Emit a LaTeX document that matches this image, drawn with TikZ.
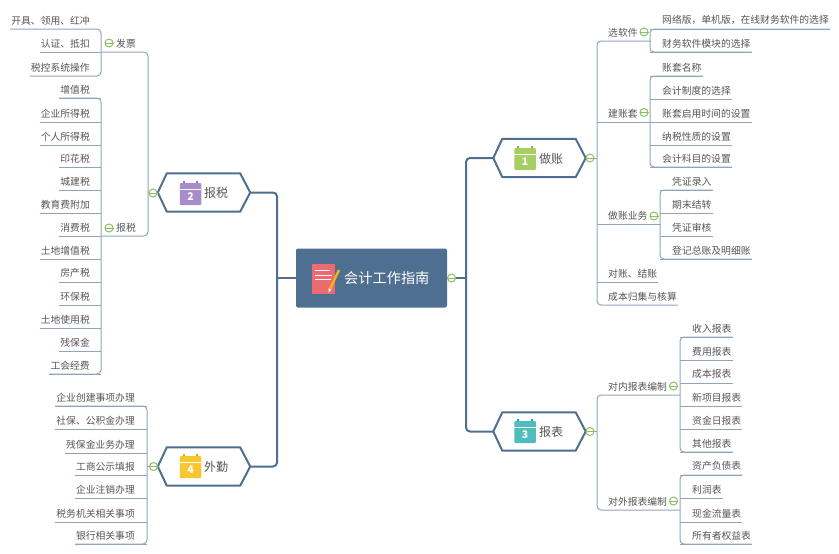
\documentclass[tikz,border=0pt]{standalone}
\usepackage{fontspec}
\setmainfont{Noto Sans CJK SC}
\definecolor{mainline}{HTML}{4F6F91}
\definecolor{subline}{HTML}{8FA5BD}
\definecolor{txt}{HTML}{555555}
\definecolor{mark}{HTML}{8DBF5F}
\definecolor{cgreen}{HTML}{A5CF62}
\definecolor{cpurple}{HTML}{A98CCB}
\definecolor{cteal}{HTML}{4FBDBD}
\definecolor{cyellow}{HTML}{F8C630}
\definecolor{cred}{HTML}{EC6B71}
\definecolor{corange}{HTML}{F5B21F}
\newcommand{\PadL}[1]{\hspace*{1pt}#1\hspace*{11pt}}
\newcommand{\PadLw}[1]{\hspace*{1pt}#1\hspace*{12pt}}
\newcommand{\PadR}[1]{\hspace*{12pt}#1\hspace*{1pt}}
\newcommand{\PadRb}[1]{\hspace*{11pt}#1\hspace*{1pt}}
\newcommand{\PadB}[1]{\hspace*{11pt}#1\hspace*{13pt}}
\newcommand{\PadBL}[1]{\hspace*{15pt}#1\hspace*{12pt}}
\newcommand{\HexOutline}[1]{\draw[hexline] ([xshift=9pt]#1.north west) -- ([xshift=-10pt]#1.north east) -- (#1.east) -- ([xshift=-10pt]#1.south east) -- ([xshift=9pt]#1.south west) -- (#1.west) -- cycle;}
\newcommand{\Calendar}[4]{%
  \node[calbody,fill=#2] (#1) at (#3) {};
  \fill[#2!85!black] (#1.north west) ++(3,0) rectangle ++(2,-1.5);
  \fill[#2!85!black] (#1.north east) ++(-5,0) rectangle ++(2,-1.5);
  \draw[white,line width=0.8pt] (#1.north west) ++(0,7) -- ++(21.5,0);
  \node[caldigit] (#1d) at ([yshift=-3pt]#1.center) {#4};}
\tikzset{
  every node/.style={text=txt,inner sep=0pt,font=\fontsize{9.8pt}{11pt}\selectfont},
  hexnode/.style={minimum width=92pt,minimum height=38pt,font=\fontsize{12pt}{14pt}\selectfont},
  hexline/.style={draw=mainline,line width=2pt,line join=round},
  mainconn/.style={draw=mainline,line width=2pt,rounded corners=4pt},
  subconn/.style={draw=subline,line width=1pt,rounded corners=4pt},
  leafl/.style={anchor=south east,minimum height=17pt},
  leafr/.style={anchor=south west,minimum height=17pt},
  marknode/.style={circle,draw=mark,fill=white,line width=1pt,minimum size=8pt},
  markbar/.style={draw=mark,line width=1pt},
  calbody/.style={rectangle,rounded corners=1pt,minimum width=21.5pt,minimum height=22pt},
  caldigit/.style={text=white,font=\fontsize{10.5pt}{11pt}\bfseries\selectfont},
}
\begin{document}
\begin{tikzpicture}[x=1pt,y=-1pt]
\useasboundingbox (0,0) rectangle (839,554);

% root
\node[rectangle,fill=mainline,rounded corners=2pt,minimum width=151pt,minimum height=59pt] (root) at (371.5,278) {};
\node[text=white,font=\fontsize{14.2pt}{16pt}\selectfont,anchor=west] (roottext) at (344,278) {会计工作指南};
\node[rectangle,fill=cred,minimum width=23pt,minimum height=30pt] (pad) at (323.5,279) {};
\draw[white,line width=0.9pt] (315,270) -- (330,270) (315,275) -- (332,275) (315,279.5) -- (331,279.5);
\draw[corange,line width=2.4pt] (339,270) -- (330,289);
\fill[white] (328.6,288.4) -- (331.4,289.6) -- (328.5,292.5) -- cycle;

% topic nodes
\node[hexnode] (zuo) at (539.5,158) {};
\node[hexnode] (biao) at (539.5,431.5) {};
\node[hexnode] (shui) at (204,192.5) {};
\node[hexnode] (qin) at (204,466.5) {};
\HexOutline{zuo}\HexOutline{biao}\HexOutline{shui}\HexOutline{qin}
\Calendar{calz}{cgreen}{525,159}{1}
\Calendar{calb}{cteal}{525,432}{3}
\Calendar{cals}{cpurple}{190.5,194}{2}
\Calendar{calq}{cyellow}{190.5,467}{4}
\node[anchor=west,font=\fontsize{12pt}{14pt}\selectfont] at (539,158.5) (tz) {做账};
\node[anchor=west,font=\fontsize{12pt}{14pt}\selectfont] at (539,431.5) (tbb) {报表};
\node[anchor=west,font=\fontsize{12pt}{14pt}\selectfont] at (204,192.5) (ts) {报税};
\node[anchor=west,font=\fontsize{12pt}{14pt}\selectfont] at (204,466.5) (tq) {外勤};

% main connectors
\coordinate (jl) at (277,278);
\coordinate (jr) at (466,278);
\draw[mainconn] (root.west) -- (jl);
\draw[mainconn] (root.east) -- (jr);
\draw[mainconn] (shui.east) -| (jl) |- (qin.east);
\draw[mainconn] (zuo.west) -| (jr) |- (biao.west);

% left branch: fa piao
\node[leafl] (fpa) at (101,29) {\PadL{开具、领用、红冲}};
\node[leafl] (fpb) at (101,52) {\PadL{认证、抵扣}};
\node[leafl] (fpc) at (101,76) {\PadL{税控系统操作}};
\node[leafr] (bfp) at (101,52) {\PadBL{发票}};
\node[leafr] (bbs) at (101,236) {\PadBL{报税}};
\draw[subconn] (fpa.south west) -- (fpa.south east) -- (fpc.south east) -- (fpc.south west);
\draw[subconn] (fpb.south west) -- (fpb.south east);
\draw[subconn] (bfp.south west) -- (bfp.south east) -- (bbs.south east) -- (bbs.south west);
\coordinate (shuij) at (bfp.south east |- shui.west);
\draw[subconn] (shui.west) -- (shuij);

% left branch: taxes
\foreach \n/\y/\t in {ta/98/增值税,tb1/122/企业所得税,tc/145/个人所得税,td/167/印花税,te/190/城建税,tf/213/教育费附加,tg/236/消费税,th/259/土地增值税,ti/282/房产税,tj/305/环保税,tk/328/土地使用税,tl/351/残保金,tm/374/工会经费}{
  \node[leafl] (\n) at (101,\y) {\PadL{\t}};
  \draw[subconn] (\n.south west) -- (\n.south east);
}
\draw[subconn] (ta.south west) -- (ta.south east) -- (tm.south east) -- (tm.south west);

% left branch: wai qin
\foreach \n/\y/\t in {qa/406/企业创建事项办理,qb/429/社保、公积金办理,qc/453/残保金业务办理,qd/475/工商公示填报,qe/498/企业注销办理,qf/522/税务机关相关事项,qg/544/银行相关事项}{
  \node[leafl] (\n) at (147,\y) {\PadLw{\t}};
  \draw[subconn] (\n.south west) -- (\n.south east);
}
\draw[subconn] (qa.south west) -- (qa.south east) -- (qg.south east) -- (qg.south west);
\coordinate (qinj) at (qa.south east |- qin.west);
\draw[subconn] (qin.west) -- (qinj);

% right branch: zuo zhang
\node[leafr] (rxr) at (597,41) {\PadB{选软件}};
\node[leafr] (rjz) at (597,122) {\PadB{建账套}};
\node[leafr] (rzy) at (597,224) {\PadB{做账业务}};
\node[leafr] (rdz) at (597,282) {\PadRb{对账、结账}};
\node[leafr] (rcb) at (597,305) {\PadRb{成本归集与核算}};
\draw[subconn] (rxr.south east) -- (rxr.south west) -- (rcb.south west) -- (rcb.south east);
\foreach \n in {rjz,rzy,rdz}{\draw[subconn] (\n.south west) -- (\n.south east);}
\coordinate (zuoj) at (rxr.south west |- zuo.east);
\draw[subconn] (zuo.east) -- (zuoj);

\foreach \n/\y/\t in {xa/29/{网络版，单机版，在线财务软件的选择},xb/52/财务软件模块的选择}{
  \node[leafr] (\n) at (650,\y) {\PadR{\t}};
  \draw[subconn] (\n.south west) -- (\n.south east);
}
\draw[subconn] (xa.south east) -- (xa.south west) -- (xb.south west) -- (xb.south east);

\foreach \n/\y/\t in {ja/76/账套名称,jb/99/会计制度的选择,jc/122/账套启用时间的设置,jd/145/纳税性质的设置,je/167/会计科目的设置}{
  \node[leafr] (\n) at (650,\y) {\PadR{\t}};
  \draw[subconn] (\n.south west) -- (\n.south east);
}
\draw[subconn] (ja.south east) -- (ja.south west) -- (je.south west) -- (je.south east);

\foreach \n/\y/\t in {za/190/凭证录入,zb/213/期末结转,zc/236/凭证审核,zd/259/登记总账及明细账}{
  \node[leafr] (\n) at (660,\y) {\PadR{\t}};
  \draw[subconn] (\n.south west) -- (\n.south east);
}
\draw[subconn] (za.south east) -- (za.south west) -- (zd.south west) -- (zd.south east);

% right branch: bao biao
\node[leafr] (rdn) at (597,395) {\PadB{对内报表编制}};
\node[leafr] (rdw) at (597,510) {\PadB{对外报表编制}};
\draw[subconn] (rdn.south east) -- (rdn.south west) -- (rdw.south west) -- (rdw.south east);
\coordinate (biaoj) at (rdn.south west |- biao.east);
\draw[subconn] (biao.east) -- (biaoj);

\foreach \n/\y/\t in {na/337/收入报表,nb/360/费用报表,nc/383/成本报表,nd/406/新项目报表,ne/429/资金日报表,nf/452/其他报表}{
  \node[leafr] (\n) at (680,\y) {\PadR{\t}};
  \draw[subconn] (\n.south west) -- (\n.south east);
}
\draw[subconn] (na.south east) -- (na.south west) -- (nf.south west) -- (nf.south east);

\foreach \n/\y/\t in {wa/475/资产负债表,wb/498/利润表,wc/522/现金流量表,wd/544/所有者权益表}{
  \node[leafr] (\n) at (680,\y) {\PadR{\t}};
  \draw[subconn] (\n.south west) -- (\n.south east);
}
\draw[subconn] (wa.south east) -- (wa.south west) -- (wd.south west) -- (wd.south east);

% collapse markers
\foreach \n/\x/\y in {m1/451.5/278,m2/590/158,m3/590/431.5,m4/153/193,m5/153.5/466.5,m6/109/43,m7/109/228,m8/644/32,m9/644/112.5,m10/654/216,m11/673.5/386,m12/673.5/501}{
  \node[marknode] (\n) at (\x,\y) {};
  \draw[markbar] (\n.west) -- (\n.east);
}
\end{tikzpicture}
\end{document}
